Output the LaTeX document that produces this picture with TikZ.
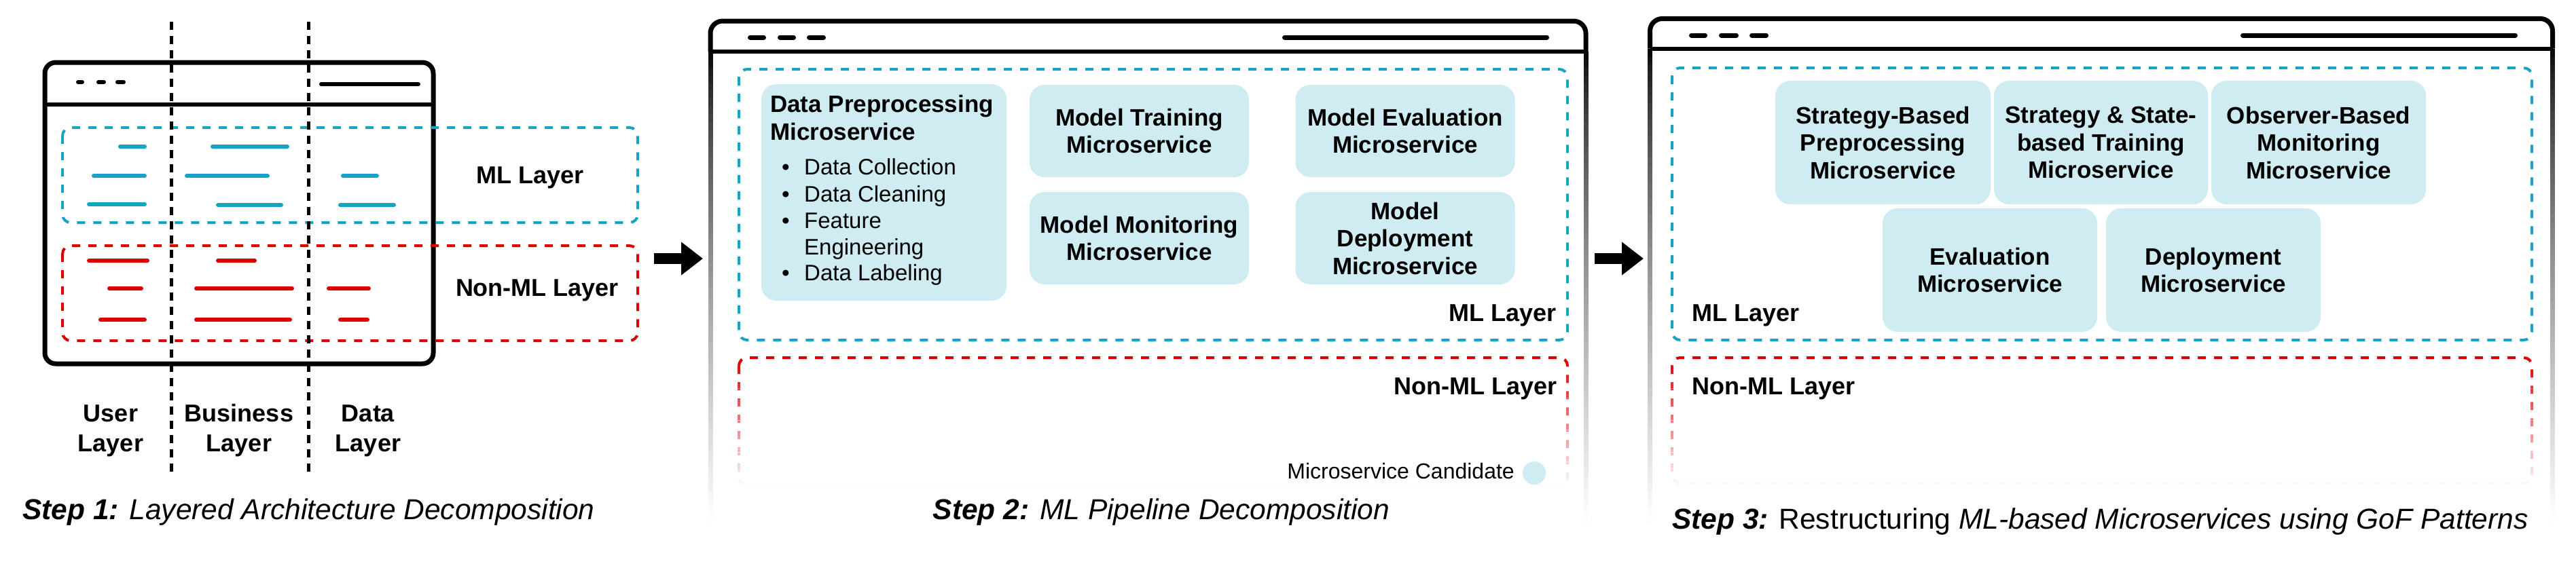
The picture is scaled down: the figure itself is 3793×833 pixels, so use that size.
\documentclass[tikz,border=0pt]{standalone}
\usepackage{fontspec}
\setmainfont{Liberation Sans}
\usetikzlibrary{arrows.meta}
\definecolor{mlblue}{RGB}{22,163,196}
\definecolor{nonred}{RGB}{221,0,0}
\definecolor{boxfill}{RGB}{208,236,243}
\newcommand\msfont{\fontsize{35}{40.5}\selectfont\bfseries}
\newcommand\lblfont{\fontsize{36}{44}\selectfont\bfseries}
\newcommand\itmfont{\fontsize{33}{39}\selectfont}
\newcommand\candfont{\fontsize{32}{38}\selectfont}
\newcommand\capfont{\fontsize{42.5}{50}\selectfont}
\tikzset{
  mldash/.style={draw=mlblue, line width=4pt, dash pattern=on 12pt off 12pt, rounded corners=12pt},
  nondash/.style={draw=nonred, line width=4pt, dash pattern=on 12pt off 12pt, rounded corners=12pt},
  bline/.style={mlblue, line width=6pt, line cap=round},
  rline/.style={nonred, line width=6pt, line cap=round},
  frameline/.style={line width=7pt},
  hdash/.style={line width=7pt, line cap=round},
  vdash/.style={line width=5pt, dash pattern=on 12pt off 9pt},
  msbox/.style={fill=boxfill, rounded corners=22pt, align=center, font=\msfont, inner sep=0pt, text=black},
  lbl/.style={font=\lblfont, inner sep=0pt},
  itm/.style={font=\itmfont, inner sep=0pt, anchor=base west},
  capt/.style={font=\capfont, inner sep=0pt},
  bigarrow/.style={line width=16pt, -{Triangle[length=32pt,width=47pt]}},
}
\begin{document}
\begin{tikzpicture}[x=1pt,y=-1pt]
\useasboundingbox (0,0) rectangle (3793,833);
\fill[white] (0,0) rectangle (3793,833);

% ================= Panel 1 =================
\draw[frameline, rounded corners=16pt] (66,92) rectangle (638,536);
\draw[line width=6pt] (66,154) -- (638,154);
\draw[line width=6pt, line cap=round] (115,121) -- (121,121);
\draw[line width=6pt, line cap=round] (145,121) -- (153,121);
\draw[line width=6pt, line cap=round] (173,121) -- (182,121);
\draw[line width=6pt, line cap=round] (473,124) -- (616,124);

\draw[mldash] (92,188) rectangle (939,328);
\draw[nondash] (92,362) rectangle (939,502);

% ML lines
\draw[bline] (177,216) -- (213,216);
\draw[bline] (313,216) -- (423,216);
\draw[bline] (138,259) -- (213,259);
\draw[bline] (275,259) -- (394,259);
\draw[bline] (505,259) -- (555,259);
\draw[bline] (131,301) -- (213,301);
\draw[bline] (321,302) -- (414,302);
\draw[bline] (501,302) -- (580,302);
% Non-ML lines
\draw[rline] (131,384) -- (217,384);
\draw[rline] (321,384) -- (375,384);
\draw[rline] (161,425) -- (208,425);
\draw[rline] (289,425) -- (430,425);
\draw[rline] (484,425) -- (543,425);
\draw[rline] (148,471) -- (213,471);
\draw[rline] (289,471) -- (427,471);
\draw[rline] (501,471) -- (541,471);

\draw[vdash] (252,32) -- (252,696);
\draw[vdash] (454,32) -- (454,696);

\node[lbl, anchor=base] (ml1) at (781,270) {ML Layer};
\node[lbl, anchor=base] (non1) at (791,436) {Non-ML Layer};
\node[lbl, anchor=base] (ul1) at (163,621) {User};
\node[lbl, anchor=base] (ul2) at (163,665) {Layer};
\node[lbl, anchor=base] (bl1) at (352,621) {Business};
\node[lbl, anchor=base] (bl2) at (352,665) {Layer};
\node[lbl, anchor=base] (dl1) at (542,621) {Data};
\node[lbl, anchor=base] (dl2) at (542,665) {Layer};

\node[capt, anchor=base west] (cap1) at (33,765) {\textbf{\textit{Step 1:}} \textit{Layered Architecture Decomposition}};

% arrow 1
\coordinate (a1s) at (963,381);
\coordinate (a1e) at (1035,381);
\draw[bigarrow] (a1s) -- (a1e);

% ================= Panels 2 and 3: window frames with fading sides =================
\draw[frameline, rounded corners=18pt] (1046,76) -- (1046,31) -- (2335,31) -- (2335,76);
\draw[line width=6pt] (1046,76) -- (2335,76);
\draw[frameline, rounded corners=18pt] (2429.5,71.5) -- (2429.5,27.5) -- (3758.5,27.5) -- (3758.5,71.5);
\draw[line width=6pt] (2429.5,71.5) -- (3758.5,71.5);
\foreach \sx/\st in {1046/76, 2335/76, 2429.5/71.5, 3758.5/71.5}{
  \pgfmathsetmacro\stp{(770-\st)/60}
  \foreach \i in {0,...,59}{
    \pgfmathsetmacro\ya{\st+\i*\stp}
    \pgfmathsetmacro\yb{\ya+\stp+0.6}
    \pgfmathsetmacro\kk{100*(1-pow((\i+0.5)/60,0.7))}
    \fill[black!\kk] (\sx-3.5,\ya) rectangle (\sx+3.5,\yb);
  }
}

% ================= Panel 2 =================
\draw[hdash] (1104.5,55) -- (1124.5,55);
\draw[hdash] (1148.5,55) -- (1168.5,55);
\draw[hdash] (1191.5,55) -- (1212.5,55);
\draw[hdash] (1891.5,55) -- (2277.5,55);

\draw[mldash] (1088,102) rectangle (2308,501);
\draw[nondash] (1088,527) rectangle (2308,715);
\foreach \i in {0,...,39}{
  \pgfmathsetmacro\ya{530+\i*4.7}
  \pgfmathsetmacro\op{(\i+0.5)/40}
  \fill[white, opacity=\op] (1060,\ya) rectangle (2322,\ya+4.9);
}

\node[msbox, minimum width=361pt, minimum height=319pt] (dp) at (1301.5,283.5) {};
\node[font=\msfont, inner sep=0pt, anchor=base west] (dpt1) at (1134,165) {Data Preprocessing};
\node[font=\msfont, inner sep=0pt, anchor=base west] (dpt2) at (1134,206) {Microservice};
\node[itm, anchor=base] (bu1) at (1157,257) {\textbullet};
\node[itm] (it1) at (1184,257) {Data Collection};
\node[itm, anchor=base] (bu2) at (1157,297) {\textbullet};
\node[itm] (it2) at (1184,297) {Data Cleaning};
\node[itm, anchor=base] (bu3) at (1157,336) {\textbullet};
\node[itm] (it3) at (1184,336) {Feature};
\node[itm] (it3b) at (1184,375) {Engineering};
\node[itm, anchor=base] (bu4) at (1157,413) {\textbullet};
\node[itm] (it4) at (1184,413) {Data Labeling};

\node[msbox, minimum width=323pt, minimum height=136pt] (mt) at (1677.5,193) {Model Training\\Microservice};
\node[msbox, minimum width=323pt, minimum height=136pt] (me) at (2069,193) {Model Evaluation\\Microservice};
\node[msbox, minimum width=323pt, minimum height=136pt] (mm) at (1677.5,351) {Model Monitoring\\Microservice};
\node[msbox, minimum width=323pt, minimum height=136pt] (md) at (2069,351) {Model\\Deployment\\Microservice};

\node[lbl, anchor=base east] (ml2) at (2292,473) {ML Layer};
\node[lbl, anchor=base east] (non2) at (2293,581) {Non-ML Layer};
\node[font=\candfont, inner sep=0pt, anchor=base east] (cand) at (2230,705) {Microservice Candidate};
\node[circle, fill=boxfill, minimum size=34pt, inner sep=0pt] (candc) at (2259,697) {};

\node[capt, anchor=base] (cap2) at (1710,765) {\textbf{\textit{Step 2:}} \textit{ML Pipeline Decomposition}};

% arrow 2
\coordinate (a2s) at (2348,381);
\coordinate (a2e) at (2420,381);
\draw[bigarrow] (a2s) -- (a2e);

% ================= Panel 3 =================
\draw[hdash] (2490.5,52) -- (2510.5,52);
\draw[hdash] (2534.5,52) -- (2556.5,52);
\draw[hdash] (2579.5,52) -- (2600.5,52);
\draw[hdash] (3302.5,52) -- (3703.5,52);

\draw[mldash] (2462,100) rectangle (3728,501);
\draw[nondash] (2462,527) rectangle (3728,712);
\foreach \i in {0,...,39}{
  \pgfmathsetmacro\ya{530+\i*4.7}
  \pgfmathsetmacro\op{(\i+0.5)/40}
  \fill[white, opacity=\op] (2440,\ya) rectangle (3748,\ya+4.9);
}

\node[msbox, minimum width=317pt, minimum height=182pt] (sp) at (2772.5,210) {Strategy-Based\\Preprocessing\\Microservice};
\node[msbox, minimum width=315pt, minimum height=182pt] (st) at (3093.5,210) {Strategy \& State-\\based Training\\Microservice};
\node[msbox, minimum width=316pt, minimum height=182pt] (ob) at (3414,210) {Observer-Based\\Monitoring\\Microservice};
\node[msbox, minimum width=316pt, minimum height=182pt] (ev) at (2930,398) {Evaluation\\Microservice};
\node[msbox, minimum width=316pt, minimum height=182pt] (de) at (3259,398) {Deployment\\Microservice};

\node[lbl, anchor=base west] (ml3) at (2491,473) {ML Layer};
\node[lbl, anchor=base west] (non3) at (2491,581) {Non-ML Layer};

\node[capt, anchor=base west] (cap3) at (2462,779) {\textbf{\textit{Step 3:}} Restructuring \textit{ML-based Microservices using GoF Patterns}};
\end{tikzpicture}
\end{document}
